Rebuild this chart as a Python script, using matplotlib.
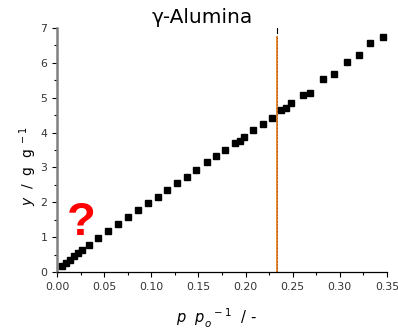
import matplotlib
matplotlib.use("Agg")
import matplotlib.pyplot as plt
from matplotlib.ticker import MultipleLocator

# relative pressure and uptake
rel_p = [0.0050, 0.0092, 0.0135, 0.0177, 0.0220, 0.0262, 0.0336, 0.0437, 0.0538, 0.0647,
         0.0757, 0.0863, 0.0969, 0.1073, 0.1171, 0.1273, 0.1376, 0.1478, 0.1595, 0.1683,
         0.1784, 0.1885, 0.1938, 0.1983, 0.2083, 0.2182, 0.2280, 0.2380, 0.2433, 0.2482,
         0.2606, 0.2683, 0.2825, 0.2938, 0.3075, 0.3200, 0.3319, 0.3457]
uptake = [0.172, 0.267, 0.353, 0.448, 0.545, 0.631, 0.783, 0.984, 1.185, 1.386,
          1.586, 1.787, 1.979, 2.160, 2.361, 2.553, 2.734, 2.915, 3.156, 3.331,
          3.509, 3.695, 3.761, 3.867, 4.074, 4.234, 4.421, 4.642, 4.691, 4.837,
          5.078, 5.144, 5.523, 5.669, 6.025, 6.214, 6.558, 6.756]
cut_x = 0.2333
cut_top = 6.75
x_ticks = [0.00, 0.05, 0.10, 0.15, 0.20, 0.25, 0.30, 0.35]
y_ticks = [0, 1, 2, 3, 4, 5, 6, 7]

fig = plt.figure(figsize=(3.98, 3.33), dpi=100)
ax = fig.add_axes([0.1432, 0.1832, 0.8292, 0.7327])

ax.plot(rel_p, uptake, 's', color='black', ms=4.3, zorder=3)
ax.plot([cut_x, cut_x], [0, cut_top], '-', color='#e8892e', lw=1.4, zorder=2)
ax.plot([cut_x, cut_x], [0, cut_top], '--', color='#a0522d', lw=0.6, dashes=(2, 2), zorder=2)
ax.plot([cut_x, cut_x], [6.87, 7.0], '-', color='black', lw=0.8, zorder=2)

ax.text(0.0259, 1.41, '?', color='red', fontsize=34, fontweight='bold',
        family='Liberation Sans', ha='center', va='center')

ax.set_xlim(0, 0.35)
ax.set_ylim(0, 7)
ax.set_xticks(x_ticks)
ax.set_xticklabels(['%.2f' % v for v in x_ticks])
ax.set_yticks(y_ticks)
ax.xaxis.set_minor_locator(MultipleLocator(0.025))
ax.yaxis.set_minor_locator(MultipleLocator(0.5))
ax.tick_params(which='both', direction='out', labelsize=7.8, labelcolor='#333333')
ax.tick_params(which='major', length=3.5, width=0.8)
ax.tick_params(which='minor', length=2, width=0.8)

for s in ['top', 'right']:
    ax.spines[s].set_visible(False)
ax.spines['left'].set_color('#808080')
ax.spines['left'].set_linewidth(1.8)
ax.spines['bottom'].set_linewidth(0.9)

fig.text(0.508, 0.947, 'γ-Alumina', fontsize=14.5, ha='center', va='center')
fig.text(0.072, 0.5, r'$y$  /  g  g$^{\ -1}$', fontsize=10, rotation=90,
         ha='center', va='center')
fig.text(0.545, 0.045, r'$p\ \ p_{o}^{\ \ -1}\ \ /$ -', fontsize=10.5,
         ha='center', va='center', style='italic')

fig.savefig('out.png', dpi=100)
